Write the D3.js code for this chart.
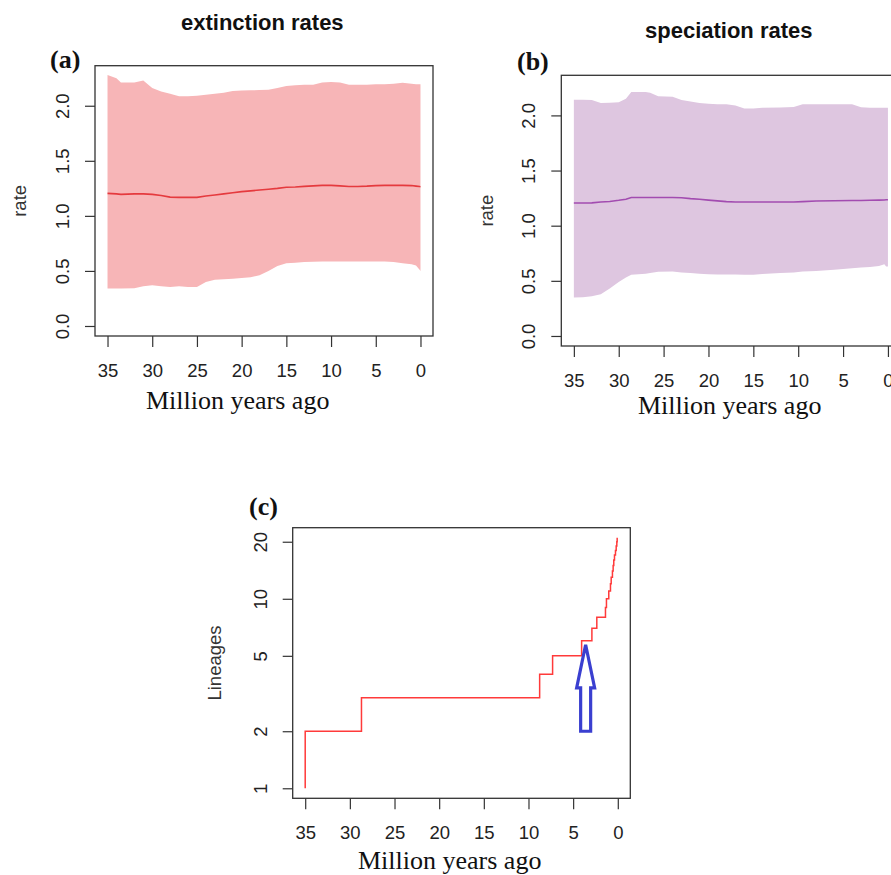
<!DOCTYPE html>
<html><head><meta charset="utf-8">
<script src="https://cdn.jsdelivr.net/npm/d3@7"></script>
<style>body{margin:0;background:#fff}svg{display:block}</style>
</head><body><svg id="chart" width="891" height="875"></svg>
<script>
// ---------- data ----------
const xTicks = [35, 30, 25, 20, 15, 10, 5, 0];
const rateTicks = [0, 0.5, 1, 1.5, 2];
const rateTickLabels = ["0.0", "0.5", "1.0", "1.5", "2.0"];
const lineageTicks = [1, 2, 5, 10, 20];

const extTime  = [35, 34, 33.5, 32, 31, 30, 29, 28, 27, 26, 25, 24, 23, 22, 21, 20, 19, 18, 17, 16, 15, 14, 13, 12, 11, 10, 9, 8, 7, 6, 5, 4, 3, 2, 1, 0.5, 0.1, 0];
const extUpper = [2.28, 2.25, 2.21, 2.21, 2.23, 2.16, 2.13, 2.11, 2.087, 2.087, 2.09, 2.10, 2.11, 2.117, 2.135, 2.138, 2.14, 2.142, 2.145, 2.16, 2.18, 2.187, 2.19, 2.19, 2.21, 2.215, 2.21, 2.19, 2.19, 2.19, 2.196, 2.196, 2.20, 2.208, 2.20, 2.196, 2.196, 2.196];
const extLower = [0.34, 0.34, 0.34, 0.342, 0.36, 0.37, 0.36, 0.355, 0.36, 0.355, 0.355, 0.40, 0.42, 0.425, 0.43, 0.435, 0.442, 0.46, 0.50, 0.545, 0.57, 0.575, 0.58, 0.584, 0.585, 0.585, 0.585, 0.585, 0.585, 0.585, 0.585, 0.585, 0.58, 0.57, 0.56, 0.55, 0.51, 0.50];
const extMean  = [1.204, 1.20, 1.195, 1.20, 1.20, 1.195, 1.185, 1.17, 1.168, 1.168, 1.168, 1.18, 1.19, 1.20, 1.21, 1.22, 1.227, 1.235, 1.242, 1.25, 1.26, 1.262, 1.268, 1.272, 1.277, 1.277, 1.272, 1.267, 1.267, 1.27, 1.275, 1.277, 1.277, 1.277, 1.275, 1.27, 1.266, 1.265];

const specTime  = [35, 34, 33, 32, 31, 30, 29.2, 28.6, 27, 26.5, 25.6, 24, 23, 22, 21, 20, 19, 18, 17, 16, 15, 14, 12, 10.5, 9.5, 8, 6, 4, 3, 2, 1, 0.4, 0.2, 0];
const specUpper = [2.143, 2.143, 2.14, 2.113, 2.115, 2.12, 2.152, 2.212, 2.212, 2.205, 2.173, 2.168, 2.14, 2.125, 2.113, 2.105, 2.10, 2.10, 2.09, 2.062, 2.062, 2.07, 2.072, 2.076, 2.10, 2.10, 2.10, 2.10, 2.075, 2.07, 2.07, 2.07, 2.07, 2.07];
const specLower = [0.348, 0.35, 0.36, 0.378, 0.43, 0.49, 0.53, 0.555, 0.565, 0.572, 0.583, 0.585, 0.575, 0.57, 0.565, 0.56, 0.558, 0.557, 0.557, 0.556, 0.556, 0.563, 0.57, 0.575, 0.585, 0.59, 0.60, 0.615, 0.62, 0.625, 0.635, 0.65, 0.63, 0.63];
const specMean  = [1.206, 1.206, 1.207, 1.215, 1.22, 1.23, 1.24, 1.255, 1.256, 1.256, 1.256, 1.255, 1.253, 1.245, 1.24, 1.232, 1.225, 1.218, 1.215, 1.215, 1.215, 1.215, 1.215, 1.215, 1.218, 1.224, 1.226, 1.228, 1.229, 1.23, 1.232, 1.233, 1.235, 1.235];

const lttTime     = [35, 35, 28.7, 8.75, 7.3, 4.05, 2.9, 2.35, 1.38, 1.27, 1.01, 0.82, 0.74, 0.6, 0.52, 0.45, 0.37, 0.26, 0.18, 0.11, 0.07];
const lttLineages = [1, 2, 3, 4, 5, 6, 7, 8, 9, 10, 11, 12, 13, 14, 15, 16, 17, 18, 19, 20, 21];

// arrow annotation (data coordinates)
const arrowTime = 3.6, arrowTip = 5.72, arrowHeadBase = 3.39, arrowTail = 2.0;

// ---------- layout / style ----------
const SANS = "'Liberation Sans', Arial, Helvetica, sans-serif";
const SERIF = "'Liberation Serif', 'Times New Roman', Times, serif";
const AX = "#333";
const TXT = "#222";
const xLim = [35, 0], rateLim = [0, 2.2727], lineageLim = [1, 21];

const svg = d3.select("#chart");
svg.append("rect").attr("width", 891).attr("height", 875).attr("fill", "#fff");

function xScale(p) {
  const pad = 0.04 * (xLim[0] - xLim[1]);
  return d3.scaleLinear().domain([xLim[0] + pad, xLim[1] - pad]).range([p.left, p.right]);
}
function rateScale(p) {
  const pad = 0.04 * (rateLim[1] - rateLim[0]);
  return d3.scaleLinear().domain([rateLim[0] - pad, rateLim[1] + pad]).range([p.bottom, p.top]);
}
function logScale(p) {
  const lo = Math.log10(lineageLim[0]), hi = Math.log10(lineageLim[1]);
  const pad = 0.04 * (hi - lo);
  return d3.scaleLog().domain([Math.pow(10, lo - pad), Math.pow(10, hi + pad)]).range([p.bottom, p.top]);
}

function drawAxes(p, x, y, yTicks, yFmt) {
  const gx = svg.append("g").attr("transform", `translate(0,${p.bottom})`)
    .call(d3.axisBottom(x).tickValues(xTicks).tickSize(11).tickFormat(d3.format("d")));
  gx.select(".domain").remove();
  gx.attr("color", AX).attr("font-family", SANS).attr("font-size", 18.5);
  gx.selectAll("line").attr("stroke-width", 1.2);
  gx.selectAll("text").attr("y", 40.5).attr("dy", null).attr("fill", TXT);

  const gy = svg.append("g").attr("transform", `translate(${p.left},0)`)
    .call(d3.axisLeft(y).tickValues(yTicks).tickSize(10).tickFormat(yFmt));
  gy.select(".domain").remove();
  gy.attr("color", AX).attr("font-family", SANS).attr("font-size", 18.5);
  gy.selectAll("line").attr("stroke-width", 1.2);
  gy.selectAll("text").attr("x", null).attr("dy", null).attr("text-anchor", "middle")
    .attr("fill", TXT).attr("transform", "translate(-26,0) rotate(-90)");

  svg.append("rect").attr("x", p.left).attr("y", p.top)
    .attr("width", p.right - p.left).attr("height", p.bottom - p.top)
    .attr("fill", "none").attr("stroke", AX).attr("stroke-width", 1.3);
}

function text(str, x, y, opts) {
  const t = svg.append("text").attr("x", x).attr("y", y).text(str)
    .attr("font-family", opts.family).attr("font-size", opts.size)
    .attr("fill", opts.fill || TXT);
  if (opts.weight) t.attr("font-weight", opts.weight);
  if (opts.anchor) t.attr("text-anchor", opts.anchor);
  if (opts.rotate) t.attr("transform", `rotate(-90,${x},${y})`);
  return t;
}

function ratePanel(p, time, upper, lower, mean, fill, stroke, title) {
  const x = xScale(p), y = rateScale(p);
  const idx = d3.range(time.length);
  svg.append("path").datum(idx)
    .attr("d", d3.area().x(i => x(time[i])).y0(i => y(lower[i])).y1(i => y(upper[i])))
    .attr("fill", fill);
  svg.append("path").datum(idx)
    .attr("d", d3.line().x(i => x(time[i])).y(i => y(mean[i])))
    .attr("fill", "none").attr("stroke", stroke).attr("stroke-width", 1.6);
  drawAxes(p, x, y, rateTicks, (d, i) => rateTickLabels[i]);
  text(title.main, title.mx, title.my, {family: SANS, size: 22, weight: "bold", fill: "#111"});
  text(title.tag, title.tx, title.ty, {family: SERIF, size: 26, weight: "bold", fill: "#111"});
  text("rate", title.rx, (p.top + p.bottom) / 2, {family: SANS, size: 18.5, anchor: "middle", rotate: true, fill: "#333"});
  text("Million years ago", title.xx, title.xy, {family: SERIF, size: 26, fill: "#111"});
}

// panel (a)
const pA = {left: 95, right: 433, top: 65.7, bottom: 336};
ratePanel(pA, extTime, extUpper, extLower, extMean, "#f7b5b7", "#e53a3e",
  {main: "extinction rates", mx: 181, my: 29.5, tag: "(a)", tx: 50, ty: 68, rx: 26.5, xx: 146, xy: 409});

// panel (b)
const pB = {left: 561.3, right: 900.5, top: 75.3, bottom: 346};
ratePanel(pB, specTime, specUpper, specLower, specMean, "#dec6e0", "#a24cb0",
  {main: "speciation rates", mx: 645, my: 38, tag: "(b)", tx: 517, ty: 69.5, rx: 493, xx: 638, xy: 414});

// panel (c)
const pC = {left: 292.7, right: 630.3, top: 527.7, bottom: 798.3};
(function () {
  const x = xScale(pC), y = logScale(pC);
  const idx = d3.range(lttTime.length);
  svg.append("path").datum(idx)
    .attr("d", d3.line().curve(d3.curveStepAfter).x(i => x(lttTime[i])).y(i => y(lttLineages[i])))
    .attr("fill", "none").attr("stroke", "#ff3a3a").attr("stroke-width", 1.5);

  // arrow
  const ax = x(arrowTime), hw = 9, sw = 5;
  const tipY = y(arrowTip), baseY = y(arrowHeadBase), tailY = y(arrowTail);
  const pts = [[ax, tipY], [ax + hw, baseY], [ax + sw, baseY], [ax + sw, tailY],
               [ax - sw, tailY], [ax - sw, baseY], [ax - hw, baseY]];
  svg.append("path").attr("d", d3.line()(pts) + "Z")
    .attr("fill", "#fff").attr("stroke", "#3a3fd0").attr("stroke-width", 3.2)
    .attr("stroke-linejoin", "miter");

  drawAxes(pC, x, y, lineageTicks, d3.format("d"));
  text("(c)", 249, 514.5, {family: SERIF, size: 26, weight: "bold", fill: "#111"});
  text("Lineages", 221, (pC.top + pC.bottom) / 2, {family: SANS, size: 18.5, anchor: "middle", rotate: true, fill: "#333"});
  text("Million years ago", 358, 869, {family: SERIF, size: 26, fill: "#111"});
})();
</script>
</body></html>
